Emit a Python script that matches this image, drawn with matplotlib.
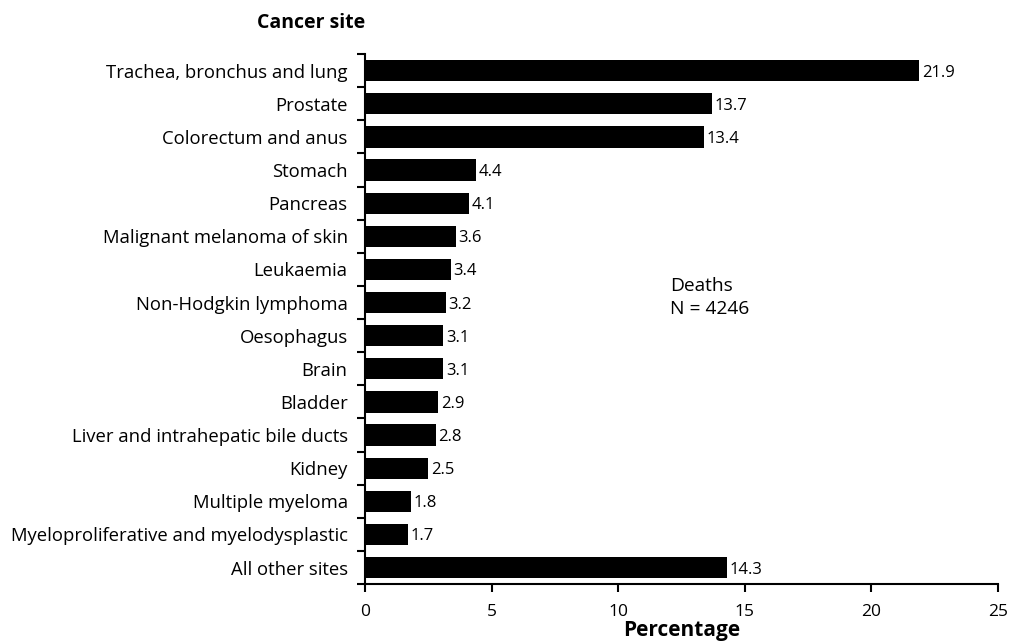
import matplotlib
matplotlib.use("Agg")
import matplotlib.pyplot as plt
import numpy as np

sites = ["Trachea, bronchus and lung", "Prostate", "Colorectum and anus", "Stomach",
         "Pancreas", "Malignant melanoma of skin", "Leukaemia", "Non-Hodgkin lymphoma",
         "Oesophagus", "Brain", "Bladder", "Liver and intrahepatic bile ducts", "Kidney",
         "Multiple myeloma", "Myeloproliferative and myelodysplastic", "All other sites"]
pct = [21.9, 13.7, 13.4, 4.4, 4.1, 3.6, 3.4, 3.2, 3.1, 3.1, 2.9, 2.8, 2.5, 1.8, 1.7, 14.3]
xticks = [0, 5, 10, 15, 20, 25]

plt.rcParams['font.family'] = ['Open Sans', 'DejaVu Sans']

fig = plt.figure(figsize=(10.14, 6.44), dpi=100)
ax = fig.add_axes([0.36, 0.093, 0.624, 0.823])

y = np.arange(len(sites))
ax.barh(y, pct, height=0.64, color="black")
for yi, v in zip(y, pct):
    ax.text(v + 0.1, yi + 0.06, f"{v}", va="center", ha="left", fontsize=12)

ax.set_ylim(len(sites) - 0.5, -0.5)
ax.set_xlim(0, 25)
ax.set_xticks(xticks)
ax.set_xticklabels([str(t) for t in xticks], fontsize=12.5)

# ticks at category boundaries, labels at centres
ax.set_yticks(np.arange(len(sites) + 1) - 0.5)
ax.set_yticklabels([])
ax.set_yticks(y, minor=True)
ax.set_yticklabels(sites, minor=True, fontsize=13.3)
ax.tick_params(axis="y", which="minor", length=0, pad=12.5)
ax.tick_params(axis="y", which="major", length=6, width=1.5)
ax.tick_params(axis="x", length=6, width=1.5, pad=8)

for s in ["top", "right"]:
    ax.spines[s].set_visible(False)
for s in ["left", "bottom"]:
    ax.spines[s].set_linewidth(1.5)

ax.set_xlabel("Percentage", fontsize=15, fontweight="bold", labelpad=0)
fig.text(0.307, 0.965, "Cancer site", fontsize=14, fontweight="bold", ha="center", va="center")
ax.text(12.05, 6.85, "Deaths\nN = 4246", fontsize=13.8, ha="left", va="center", linespacing=1.35)

fig.savefig("out.png", dpi=100)
